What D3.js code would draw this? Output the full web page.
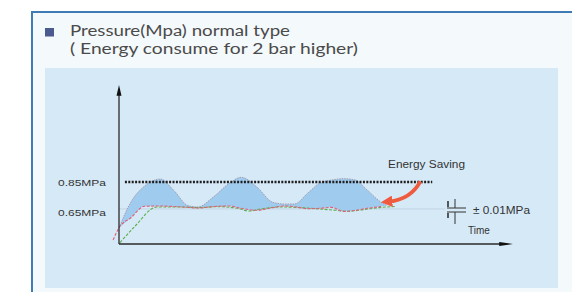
<!DOCTYPE html>
<html>
<head>
<meta charset="utf-8">
<script src="https://cdn.jsdelivr.net/npm/d3@7"></script>
<style>
  html, body { margin: 0; padding: 0; background: #ffffff; }
  svg { display: block; }
</style>
</head>
<body>
<svg id="chart" width="572" height="292"></svg>
<script>
// ---------------- data ----------------
const titleLines = ["Pressure(Mpa) normal type", "( Energy consume for 2 bar higher)"];
const levelLabels = ["0.85MPa", "0.65MPa"];
const levelValues = [0.85, 0.65];

// blue band (time in arbitrary units, pressure in MPa)
const bandTime  = [0, 3, 6.5, 10.5, 14, 17.5, 20, 24, 28, 31, 35, 39, 42, 44.5, 48, 51, 54, 57, 60, 63, 66.5, 68];
const bandUpper = [0.51, 0.70, 0.82, 0.872, 0.785, 0.675, 0.665, 0.74, 0.84, 0.885, 0.813, 0.70, 0.687, 0.687, 0.77, 0.843, 0.865, 0.875, 0.865, 0.79, 0.70, 0.675];
const bandLower = [0.51, 0.585, 0.67, 0.672, 0.668, 0.662, 0.657, 0.668, 0.672, 0.655, 0.64, 0.66, 0.672, 0.667, 0.652, 0.655, 0.662, 0.632, 0.640, 0.655, 0.668, 0.675];

// red dashed line
const redTime  = [-1.5, 0, 3, 6.5, 10.5, 14, 17.5, 20, 24, 28, 31, 35, 39, 42, 44.5, 48, 51, 54, 57, 60, 63, 66.5];
const redValue = [0.42, 0.51, 0.585, 0.67, 0.672, 0.668, 0.662, 0.657, 0.668, 0.672, 0.655, 0.64, 0.66, 0.672, 0.667, 0.652, 0.655, 0.662, 0.632, 0.640, 0.655, 0.668];

// green dashed line
const greenTime  = [0.25, 4, 9.6, 15, 20, 25, 30, 33, 36, 41, 46, 51, 55, 58, 62, 66, 70];
const greenValue = [0.40, 0.52, 0.665, 0.665, 0.66, 0.667, 0.655, 0.635, 0.65, 0.665, 0.66, 0.65, 0.64, 0.633, 0.645, 0.66, 0.668];

const annotations = { saving: "Energy Saving", tol: "\u00b1 0.01MPa", time: "Time" };

// ---------------- drawing ----------------
const svg = d3.select("#chart");

const x = d3.scaleLinear().domain([0, 100]).range([119, 513]);
const y = d3.scaleLinear().domain([0.39, 1.57]).range([244, 85]);

const SANS = "Liberation Sans, Arial, sans-serif";

// outer frame
svg.append("rect").attr("x", 32).attr("y", 12).attr("width", 560).attr("height", 300)
  .attr("fill", "#f4f9fc").attr("stroke", "#3f7bb4").attr("stroke-width", 2);

// header
svg.append("rect").attr("x", 45).attr("y", 28).attr("width", 9).attr("height", 8.5).attr("fill", "#4b5b8f");
svg.append("text").attr("x", 70).attr("y", 36)
  .attr("font-family", "Lato, 'Open Sans', sans-serif").attr("font-size", 14.5).attr("fill", "#4a4a4a")
  .attr("textLength", 220).attr("lengthAdjust", "spacingAndGlyphs").text(titleLines[0]);
svg.append("text").attr("x", 70).attr("y", 53.5)
  .attr("font-family", "Lato, 'Open Sans', sans-serif").attr("font-size", 14.5).attr("fill", "#4a4a4a")
  .attr("textLength", 288).attr("lengthAdjust", "spacingAndGlyphs").text(titleLines[1]);

// panel
svg.append("rect").attr("x", 45).attr("y", 68).attr("width", 513).attr("height", 220).attr("fill", "#d6e9f7");

// reference line at 0.65
svg.append("line").attr("x1", x(0)).attr("x2", 445).attr("y1", y(0.65)).attr("y2", y(0.65))
  .attr("stroke", "#b9cfe0").attr("stroke-width", 0.8);

// band
const bandData = bandTime.map((t, i) => ({ t, hi: bandUpper[i], lo: bandLower[i] }));
svg.append("path").datum(bandData)
  .attr("d", d3.area().x(d => x(d.t)).y0(d => y(d.lo)).y1(d => y(d.hi)).curve(d3.curveMonotoneX))
  .attr("fill", "#9fcbee");
svg.append("path").datum(bandData)
  .attr("d", d3.line().x(d => x(d.t)).y(d => y(d.hi)).curve(d3.curveMonotoneX))
  .attr("fill", "none").attr("stroke", "#a497a8").attr("stroke-width", 0.9).attr("stroke-dasharray", "1.5,1");

// dotted 0.85 line
svg.append("line").attr("x1", x(1.5)).attr("x2", x(79.5)).attr("y1", y(0.85)).attr("y2", y(0.85))
  .attr("stroke", "#1e1e1e").attr("stroke-width", 2.4).attr("stroke-dasharray", "2,1.4");

// green dashed line
svg.append("path").datum(greenTime.map((t, i) => [t, greenValue[i]]))
  .attr("d", d3.line().x(d => x(d[0])).y(d => y(d[1])).curve(d3.curveMonotoneX))
  .attr("fill", "none").attr("stroke", "#5cae4c").attr("stroke-width", 1.1).attr("stroke-dasharray", "3,1.5");

// red dashed line
svg.append("path").datum(redTime.map((t, i) => [t, redValue[i]]))
  .attr("d", d3.line().x(d => x(d[0])).y(d => y(d[1])).curve(d3.curveMonotoneX))
  .attr("fill", "none").attr("stroke", "#e0607a").attr("stroke-width", 1.1).attr("stroke-dasharray", "3,1.5");

// axes
svg.append("line").attr("x1", x(0)).attr("x2", x(0)).attr("y1", y(1.50)).attr("y2", y(0.39))
  .attr("stroke", "#2a2a2a").attr("stroke-width", 1.3);
svg.append("line").attr("x1", x(0)).attr("x2", x(98)).attr("y1", y(0.39)).attr("y2", y(0.39))
  .attr("stroke", "#2a2a2a").attr("stroke-width", 1.6);
svg.append("path").attr("d", d3.line()([[x(0) - 2.5, y(1.49)], [x(0), y(1.57)], [x(0) + 2.5, y(1.49)]]) + "Z")
  .attr("fill", "#111");
svg.append("path").attr("d", d3.line()([[x(96.5), y(0.39) - 2], [x(100), y(0.39)], [x(96.5), y(0.39) + 2]]) + "Z")
  .attr("fill", "#111");

// level labels
const lbl = svg.append("g").attr("font-family", SANS).attr("font-size", 9.5).attr("fill", "#333");
levelValues.forEach((v, i) => {
  lbl.append("text").attr("x", 58).attr("y", y(v) + (i === 0 ? 4 : 7))
    .attr("textLength", 48).attr("lengthAdjust", "spacingAndGlyphs").text(levelLabels[i]);
});

// energy saving arrow
const defs = svg.append("defs");
defs.append("marker").attr("id", "ah").attr("viewBox", "0 0 10 10").attr("refX", 3).attr("refY", 5)
  .attr("markerWidth", 3).attr("markerHeight", 3).attr("orient", "auto")
  .append("path").attr("d", "M0,0 L10,5 L0,10 Z").attr("fill", "#ef5b3e");
const p = d3.path();
p.moveTo(x(76.5), y(0.855));
p.quadraticCurveTo(x(74), y(0.72), x(68.5), y(0.705));
svg.append("path").attr("d", p.toString()).attr("fill", "none")
  .attr("stroke", "#ef5b3e").attr("stroke-width", 3.8).attr("marker-end", "url(#ah)");

svg.append("text").attr("x", 388).attr("y", 168).attr("font-family", SANS)
  .attr("font-size", 10).attr("fill", "#333")
  .attr("textLength", 77).attr("lengthAdjust", "spacingAndGlyphs").text(annotations.saving);

// tolerance symbol
const sym = svg.append("g").attr("stroke", "#333").attr("stroke-width", 1);
sym.append("line").attr("x1", 447).attr("x2", 466).attr("y1", 208).attr("y2", 208);
sym.append("line").attr("x1", 447).attr("x2", 466).attr("y1", 212).attr("y2", 212);
sym.append("line").attr("x1", 455).attr("x2", 455).attr("y1", 199).attr("y2", 208);
sym.append("line").attr("x1", 455).attr("x2", 455).attr("y1", 212).attr("y2", 224);
sym.append("line").attr("x1", 448).attr("x2", 448).attr("y1", 201).attr("y2", 207).attr("stroke-width", 1.6);
sym.append("line").attr("x1", 448).attr("x2", 448).attr("y1", 213).attr("y2", 218).attr("stroke-width", 1.6);

svg.append("text").attr("x", 473).attr("y", 214).attr("font-family", SANS)
  .attr("font-size", 10).attr("fill", "#333")
  .attr("textLength", 57).attr("lengthAdjust", "spacingAndGlyphs").text(annotations.tol);
svg.append("text").attr("x", 468).attr("y", 234).attr("font-family", SANS)
  .attr("font-size", 10).attr("fill", "#333").text(annotations.time);
</script>
</body>
</html>
